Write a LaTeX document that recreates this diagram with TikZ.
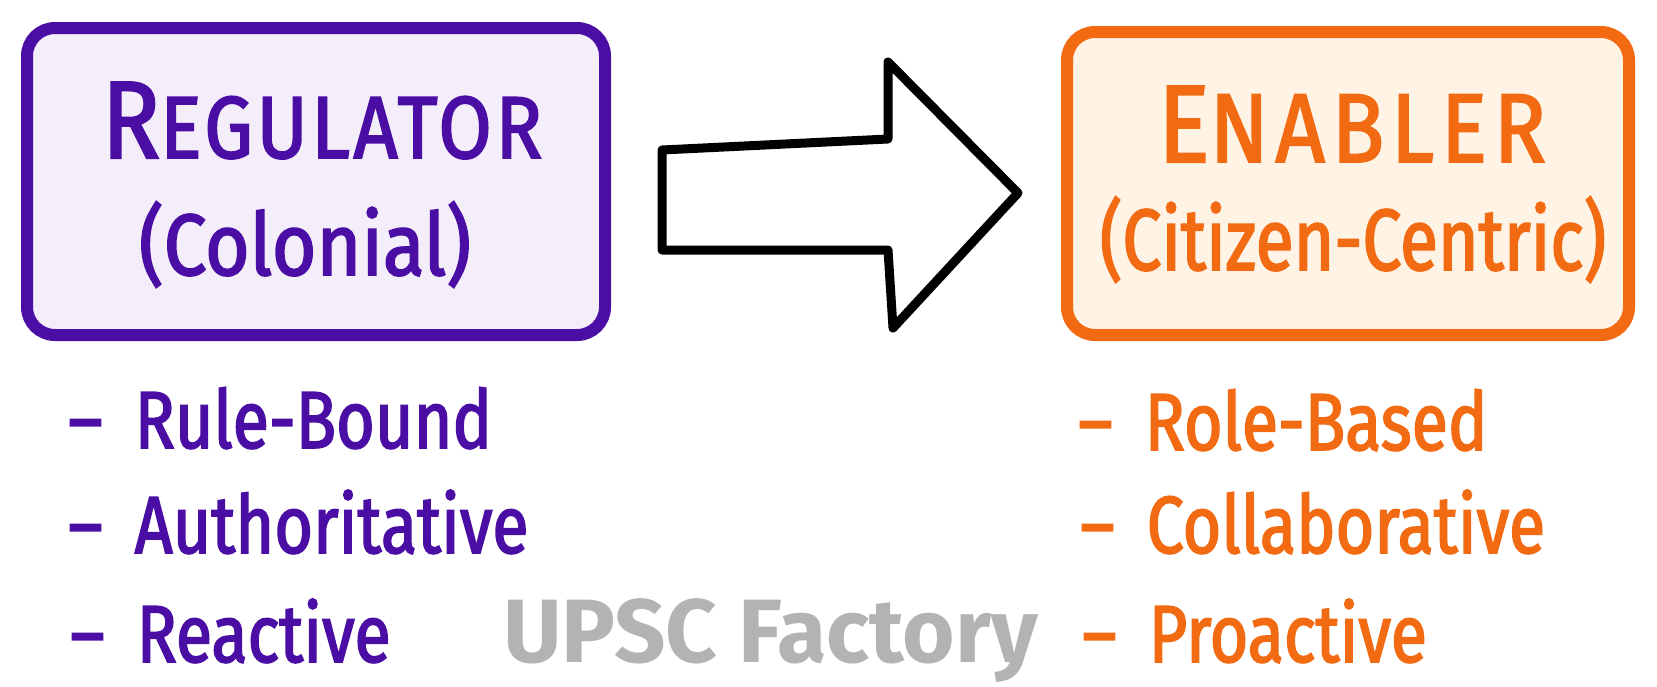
\documentclass[tikz,border=0pt]{standalone}
\usepackage{fontspec}
\usetikzlibrary{positioning}
\newfontfamily\handfont[FakeStretch=0.88,FakeBold=2]{Fira Sans}
\newfontfamily\handnarrow[FakeStretch=0.8,FakeBold=2]{Fira Sans}
\newfontfamily\markfont{Fira Sans}
\definecolor{regpurple}{RGB}{75,14,165}
\definecolor{regfill}{RGB}{244,238,251}
\definecolor{enaorange}{RGB}{242,106,18}
\definecolor{enafill}{RGB}{255,243,229}
\definecolor{markgray}{RGB}{179,179,179}
% big first letter, rest in small capitals
\newcommand{\firstcap}[4]{{\fontsize{110}{110}\selectfont #1}{\addfontfeature{LetterSpace=#4}\fontsize{#3}{#3}\selectfont #2}}

\begin{document}
\begin{tikzpicture}[x=1pt,y=-1pt,
  panel/.style={draw, line width=12pt, rounded corners=28pt, inner sep=0pt},
  title/.style={anchor=base, inner sep=0pt, font=\handfont},
  sub/.style={anchor=base, inner sep=0pt, font=\handfont\fontsize{87}{87}\selectfont},
  item/.style={anchor=base west, inner sep=0pt, font=\handnarrow\addfontfeature{FakeStretch=0.82}\fontsize{81}{81}\selectfont}]
\useasboundingbox (0,0) rectangle (1657,686);
		\node[panel, draw=regpurple, fill=regfill, minimum width=578pt, minimum height=307pt] (reg) at (316,181.5) {};
\node[panel, draw=enaorange, fill=enafill, minimum width=562pt, minimum height=303pt] (ena) at (1348,183.5) {};
		\draw[line width=9pt, line join=round, fill=white] (662,150) -- (888,139) -- (888,62) -- (1018,193) -- (893,328) -- (888,250) -- (662,250) -- cycle;
	\node[title, text=regpurple] (regname) at (322,158) {\firstcap{R}{EGULATOR}{88}{4}};
	\node[sub, text=regpurple] (regsub) at (305,275) {(Colonial)};
	\node[title, text=enaorange] (enaname) at (1352,162) {\firstcap{E}{NABLER}{98}{7}};
	\node[sub, text=enaorange, font=\handnarrow\fontsize{87}{87}\selectfont] (enasub) at (1353,270) {(Citizen-Centric)};

	\node[item, text=regpurple] (rule) at (68,448) {–\hspace{32pt}Rule-Bound};
	\node[item, text=regpurple] (auth) at (68,553) {–\hspace{32pt}Authoritative};
	\node[item, text=regpurple] (reac) at (70,662) {–\hspace{32pt}Reactive};
	\node[item, text=enaorange] (role) at (1078,450) {–\hspace{32pt}Role-Based};
	\node[item, text=enaorange] (coll) at (1080,553) {–\hspace{32pt}Collaborative};
	\node[item, text=enaorange] (proa) at (1082,662) {–\hspace{32pt}Proactive};

	\node[anchor=base west, inner sep=0pt, text=markgray, font=\markfont\bfseries\fontsize{90}{90}\selectfont] (mark) at (503,662) {UPSC Factory};
		\end{tikzpicture}
\end{document}
